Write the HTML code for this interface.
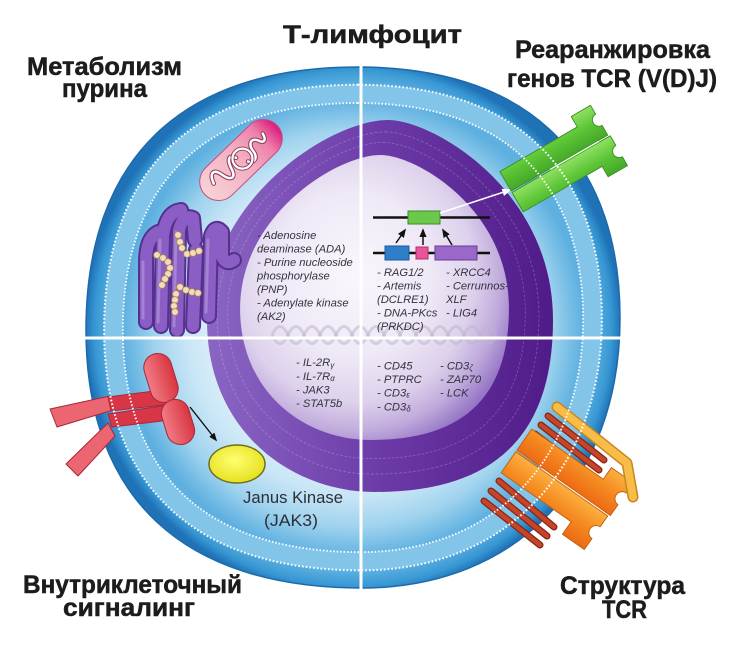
<!DOCTYPE html>
<html><head><meta charset="utf-8"><style>
html,body{margin:0;padding:0;background:#fff;}
svg{display:block;}
.lb{font-family:"Liberation Sans",Arial,sans-serif;font-weight:bold;font-size:25px;fill:#1c1c1c;stroke:#1c1c1c;stroke-width:0.5;}
.it{font-family:"Liberation Sans",Arial,sans-serif;font-style:italic;font-size:11.2px;fill:#33323e;}
.jk{font-family:"Liberation Sans",Arial,sans-serif;font-size:16.5px;fill:#2e2e36;}
</style></head><body>
<svg width="745" height="656" viewBox="0 0 745 656" xmlns="http://www.w3.org/2000/svg">
<defs>
<path id="cell" d="M358,67 C540,67 620,170 620,318 C620,480 517,588 362,588 C183,588 86,498 86,330 C86,159 181,67 358,67 Z"/>
<path id="nuc" d="M388,120 C433,120 553,190 553,320 C553,440 490,492 375,492 C290,492 207,430 207,320 C207,200 330,120 388,120 Z"/>
<radialGradient id="gOuter" gradientUnits="userSpaceOnUse" cx="353" cy="328" r="268">
<stop offset="0.9" stop-color="#5fb3e2"/><stop offset="0.965" stop-color="#3797d3"/><stop offset="1" stop-color="#1f72b6"/>
</radialGradient>
<radialGradient id="gCyto" gradientUnits="userSpaceOnUse" cx="353" cy="328" r="268">
<stop offset="0" stop-color="#f2f9fd"/><stop offset="0.55" stop-color="#e2f1fa"/><stop offset="0.72" stop-color="#c9e6f6"/><stop offset="0.86" stop-color="#a0d3ee"/><stop offset="0.95" stop-color="#74bce5"/><stop offset="1" stop-color="#5eb0e0"/>
</radialGradient>
<linearGradient id="gNuc" gradientUnits="userSpaceOnUse" x1="207" y1="0" x2="553" y2="0">
<stop offset="0" stop-color="#8a66c4"/><stop offset="0.5" stop-color="#6c3ba8"/><stop offset="1" stop-color="#4f1b88"/>
</linearGradient>
<radialGradient id="gNucIn" cx="0.42" cy="0.42" r="0.64">
<stop offset="0" stop-color="#f9f7fc"/><stop offset="0.45" stop-color="#efe9f6"/><stop offset="0.7" stop-color="#ddd1ec"/><stop offset="0.86" stop-color="#c0abdc"/><stop offset="1" stop-color="#9676c6"/>
</radialGradient>
<linearGradient id="gMito" x1="0" y1="0" x2="1" y2="0">
<stop offset="0" stop-color="#f8d2d6"/><stop offset="0.55" stop-color="#f3abc0"/><stop offset="0.8" stop-color="#ee80ab"/><stop offset="1" stop-color="#d9187c"/>
</linearGradient>
<linearGradient id="gGreen" x1="0" y1="0" x2="0" y2="1">
<stop offset="0" stop-color="#8fe062"/><stop offset="0.5" stop-color="#5cc536"/><stop offset="1" stop-color="#45a82a"/>
</linearGradient>
<linearGradient id="gOr" x1="0" y1="0" x2="0" y2="1">
<stop offset="0" stop-color="#fbb040"/><stop offset="0.5" stop-color="#f58a20"/><stop offset="1" stop-color="#ee6a14"/>
</linearGradient>
<linearGradient id="gRed" x1="0" y1="0" x2="1" y2="0">
<stop offset="0" stop-color="#f27c86"/><stop offset="1" stop-color="#d8343f"/>
</linearGradient>
<radialGradient id="gYel" cx="0.45" cy="0.4" r="0.6">
<stop offset="0" stop-color="#ffff70"/><stop offset="1" stop-color="#e6e020"/>
</radialGradient>
<marker id="ah" viewBox="0 0 10 10" refX="8" refY="5" markerWidth="6" markerHeight="6" orient="auto"><path d="M0,1 L10,5 L0,9 Z" fill="#111"/></marker>
<marker id="ahw" viewBox="0 0 10 10" refX="8" refY="5" markerWidth="6" markerHeight="6" orient="auto"><path d="M0,1 L10,5 L0,9 Z" fill="#fff"/></marker>
</defs>
<rect width="745" height="656" fill="#fff"/>

<!-- cell layers -->
<use href="#cell" fill="url(#gOuter)" stroke="#1d6aab" stroke-width="1.5"/>
<use href="#cell" transform="translate(353 328) scale(0.932) translate(-353 -328)" fill="#82c5e9"/>
<use href="#cell" transform="translate(353 328) scale(0.862) translate(-353 -328)" fill="url(#gCyto)"/>

<!-- nucleus -->
<use href="#nuc" fill="url(#gNuc)"/>
<use href="#nuc" transform="translate(378 303) scale(0.93 0.92) translate(-380 -306)" fill="none" stroke="#ffffff" stroke-opacity="0.22" stroke-width="1" stroke-dasharray="3 2" vector-effect="non-scaling-stroke"/>
<use href="#nuc" transform="translate(376.5 300.5) scale(0.86 0.85) translate(-380 -306)" fill="none" stroke="#ffffff" stroke-opacity="0.22" stroke-width="1" stroke-dasharray="3 2" vector-effect="non-scaling-stroke"/>
<use href="#nuc" transform="translate(374.5 297.5) scale(0.777 0.766) translate(-380 -306)" fill="url(#gNucIn)"/>

<!-- DNA watermark -->
<g fill="none" stroke="#bdb4cc" stroke-opacity="0.55" stroke-width="3">
<path d="M272,335 Q280,318 288,335 T304,335 T320,335 T336,335 T352,335 T368,335 T384,335 T400,335 T416,335 T432,335 T448,335 T464,335 T480,335 T496,335"/>
<path d="M272,335 Q280,352 288,335 T304,335 T320,335 T336,335 T352,335 T368,335 T384,335 T400,335 T416,335 T432,335 T448,335 T464,335 T480,335 T496,335"/>
</g>

<!-- mitochondrion -->
<g transform="translate(241 160) rotate(-44)">
<rect x="-50" y="-19" width="100" height="38" rx="19" fill="url(#gMito)" stroke="#c44c80" stroke-width="1"/>
<path d="M-36,-2 C-32,-13 -26,-13 -24,-3 C-22,8 -16,10 -13,0 C-10,-10 -5,-13 -2,-5 M4,6 C8,12 14,10 15,2 C16,-6 22,-10 26,-2 C28,4 32,4 34,-4" fill="none" stroke="#8a3a5a" stroke-width="4.5" stroke-linecap="round"/>
<path d="M-36,-2 C-32,-13 -26,-13 -24,-3 C-22,8 -16,10 -13,0 C-10,-10 -5,-13 -2,-5 M4,6 C8,12 14,10 15,2 C16,-6 22,-10 26,-2 C28,4 32,4 34,-4" fill="none" stroke="#ffffff" stroke-width="2.5" stroke-linecap="round"/>
<circle cx="2" cy="0" r="10" fill="none" stroke="#8a3a5a" stroke-width="4"/>
<circle cx="2" cy="0" r="10" fill="none" stroke="#ffffff" stroke-width="2.2"/>
</g>

<!-- ER -->
<g fill="none" stroke-linecap="round" stroke-linejoin="round">
<g stroke="#55308c" stroke-width="16">
<path d="M146,322 L146,262 Q146,238 158,232"/>
<path d="M161,326 L163,236 Q166,212 181,210"/>
<path d="M177,330 L179,230 Q183,214 193,218 L195,240"/>
<path d="M193,326 L196,250"/>
<path d="M209,316 L211,236 Q215,224 222,232 L222,256 Q226,266 234,260"/>
</g>
<g stroke="#8a5ec4" stroke-width="12">
<path d="M146,322 L146,262 Q146,238 158,232"/>
<path d="M161,326 L163,236 Q166,212 181,210"/>
<path d="M177,330 L179,230 Q183,214 193,218 L195,240"/>
<path d="M193,326 L196,250"/>
<path d="M209,316 L211,236 Q215,224 222,232 L222,256 Q226,266 234,260"/>
</g>
<g stroke="#b092dc" stroke-width="3" stroke-opacity="0.7">
<path d="M143,318 L143,262"/>
<path d="M158,322 L160,240"/>
<path d="M174,326 L176,232"/>
<path d="M206,312 L208,240"/>
</g>
</g>
<g fill="#f3dcb6" stroke="#a8845a" stroke-width="0.8">
<circle cx="178" cy="235" r="3.4"/><circle cx="180" cy="242" r="3.4"/><circle cx="182" cy="248" r="3.4"/><circle cx="187" cy="254" r="3.4"/><circle cx="193" cy="253" r="3.4"/><circle cx="199" cy="251" r="3.4"/>
<circle cx="157" cy="255" r="3.4"/><circle cx="163" cy="258" r="3.4"/><circle cx="168" cy="262" r="3.4"/><circle cx="170" cy="268" r="3.4"/><circle cx="168" cy="274" r="3.4"/><circle cx="165" cy="279" r="3.4"/><circle cx="162" cy="285" r="3.4"/>
<circle cx="180" cy="287" r="3.4"/><circle cx="186" cy="290" r="3.4"/><circle cx="192" cy="292" r="3.4"/><circle cx="198" cy="293" r="3.4"/><circle cx="176" cy="294" r="3.4"/><circle cx="175" cy="300" r="3.4"/><circle cx="174" cy="306" r="3.4"/><circle cx="175" cy="312" r="3.4"/>
</g>

<!-- dividers -->
<line x1="361" y1="58" x2="361" y2="622" stroke="#fff" stroke-width="3"/>
<line x1="40" y1="338" x2="640" y2="338" stroke="#fff" stroke-width="3"/>

<!-- gene diagram -->
<line x1="373" y1="217.5" x2="490" y2="217.5" stroke="#111" stroke-width="2.5"/>
<rect x="408" y="211" width="32" height="13" fill="#6cc84a" stroke="#3a8a2a" stroke-width="1"/>
<line x1="373" y1="253" x2="490" y2="253" stroke="#111" stroke-width="2.5"/>
<rect x="385" y="246" width="24" height="14" fill="#2f7fc8" stroke="#1a5a9a" stroke-width="1"/>
<rect x="416" y="247" width="12" height="12" fill="#e8559a" stroke="#b03070" stroke-width="1"/>
<rect x="435" y="246" width="42" height="14" fill="#9a68c8" stroke="#6a3a98" stroke-width="1"/>
<g stroke="#111" stroke-width="1.5" marker-end="url(#ah)">
<line x1="396" y1="243" x2="405" y2="230"/>
<line x1="423" y1="245" x2="423" y2="230"/>
<line x1="452" y1="245" x2="443" y2="230"/>
</g>
<line x1="440" y1="213" x2="510" y2="190" stroke="#fff" stroke-width="1.6" marker-end="url(#ahw)"/>

<!-- nucleus texts -->
<text class="it" x="257" y="239">- Adenosine</text>
<text class="it" x="257" y="252.5">deaminase (ADA)</text>
<text class="it" x="257" y="266">- Purine nucleoside</text>
<text class="it" x="257" y="279.5">phosphorylase</text>
<text class="it" x="257" y="293">(PNP)</text>
<text class="it" x="257" y="306.5">- Adenylate kinase</text>
<text class="it" x="257" y="320">(AK2)</text>

<text class="it" x="377" y="276">- RAG1/2</text>
<text class="it" x="377" y="289.5">- Artemis</text>
<text class="it" x="377" y="303">(DCLRE1)</text>
<text class="it" x="377" y="316.5">- DNA-PKcs</text>
<text class="it" x="377" y="330">(PRKDC)</text>
<text class="it" x="446" y="276">- XRCC4</text>
<text class="it" x="446" y="289.5">- Cerrunnos-</text>
<text class="it" x="446" y="303">XLF</text>
<text class="it" x="446" y="316.5">- LIG4</text>

<text class="it" x="296" y="366">- IL-2R<tspan font-size="8" dy="2">γ</tspan></text>
<text class="it" x="296" y="380">- IL-7R<tspan font-size="8" dy="1">α</tspan></text>
<text class="it" x="296" y="393.5">- JAK3</text>
<text class="it" x="296" y="407">- STAT5b</text>

<text class="it" x="377" y="369.5">- CD45</text>
<text class="it" x="377" y="383">- PTPRC</text>
<text class="it" x="377" y="396.5">- CD3<tspan font-size="8" dy="1">ε</tspan></text>
<text class="it" x="377" y="410.5">- CD3<tspan font-size="8" dy="1">δ</tspan></text>
<text class="it" x="440" y="369.5">- CD3<tspan font-size="8" dy="1">ζ</tspan></text>
<text class="it" x="440" y="383">- ZAP70</text>
<text class="it" x="440" y="396.5">- LCK</text>

<!-- green receptor -->
<g transform="translate(518 188) rotate(-30) scale(0.93)" stroke="#3c8f26" stroke-width="1" stroke-linejoin="round">
<path d="M-8,-25 L88,-25 L88,-38 L112,-38 L112,-27 A7 7 0 0 0 112,-13 L112,-1 L-8,-1 Z" fill="url(#gGreen)"/>
<path d="M-8,1 L114,1 L114,13 A7 7 0 0 0 114,27 L114,38 L90,38 L90,25 L-8,25 Z" fill="url(#gGreen)"/>
<line x1="40" y1="0" x2="100" y2="0" stroke="#e8ffe0" stroke-width="1.5"/>
</g>

<!-- orange receptor: rods -->
<g stroke-linecap="round">
<g stroke="#8a2412" stroke-width="7">
<line x1="548" y1="416" x2="604" y2="460"/><line x1="541" y1="425" x2="599" y2="470"/><line x1="535" y1="434" x2="593" y2="478"/>
<line x1="499" y1="481" x2="554" y2="527"/><line x1="491" y1="491" x2="547" y2="536"/><line x1="484" y1="501" x2="540" y2="545"/>
</g>
<g stroke="#c4462a" stroke-width="4.5">
<line x1="548" y1="416" x2="604" y2="460"/><line x1="541" y1="425" x2="599" y2="470"/><line x1="535" y1="434" x2="593" y2="478"/>
<line x1="499" y1="481" x2="554" y2="527"/><line x1="491" y1="491" x2="547" y2="536"/><line x1="484" y1="501" x2="540" y2="545"/>
</g>
</g>
<!-- orange body -->
<g transform="translate(518 452) rotate(35) scale(0.95)" stroke="#c25f10" stroke-width="1" stroke-linejoin="round">
<path d="M-2,-28 L90,-28 L90,-43 L118,-43 L118,-30 A7 7 0 0 0 118,-15 L118,-1 L-2,-1 Z" fill="url(#gOr)"/>
<path d="M-2,1 L116,1 L116,15 A7 7 0 0 0 116,30 L116,44 L88,44 L88,28 L-2,28 Z" fill="url(#gOr)"/>
<line x1="30" y1="0" x2="105" y2="0" stroke="#fff0d8" stroke-width="1.3"/>
</g>
<polyline points="557,407 627,463 633,497" fill="none" stroke="#c9861c" stroke-width="11" stroke-linejoin="round" stroke-linecap="round"/>
<polyline points="557,407 627,463 633,497" fill="none" stroke="#f8bc48" stroke-width="8" stroke-linejoin="round" stroke-linecap="round"/>

<!-- red receptor -->
<g stroke="#a8283a" stroke-width="1" stroke-linejoin="round">
<polygon points="50,409 110,396 113,410 57,427" fill="#ec6672"/>
<polygon points="108,423 115,436 78,476 66,464" fill="#ec6672"/>
<polygon points="108,397 170,389 172,404 111,411" fill="#d83646"/>
<polygon points="108,414 168,405 170,420 112,427" fill="#d83646"/>
<g transform="translate(161 378) rotate(-17)"><rect x="-14" y="-25" width="28" height="50" rx="14" fill="url(#gRed)"/></g>
<g transform="translate(178 422) rotate(-17)"><rect x="-14" y="-23" width="28" height="46" rx="14" fill="url(#gRed)"/></g>
</g>

<!-- membrane dotted lines (on top) -->
<use href="#cell" transform="translate(353 328) scale(0.932) translate(-353 -328)" fill="none" stroke="#ffffff" stroke-width="2.2" stroke-dasharray="1.8 2.2" vector-effect="non-scaling-stroke" opacity="0.95"/>
<use href="#cell" transform="translate(353 328) scale(0.862) translate(-353 -328)" fill="none" stroke="#ffffff" stroke-width="2.2" stroke-dasharray="1.8 2.2" vector-effect="non-scaling-stroke" opacity="0.95"/>

<!-- JAK -->
<line x1="190" y1="407" x2="216" y2="440" stroke="#111" stroke-width="1.4" marker-end="url(#ah)"/>
<ellipse cx="237" cy="464" rx="28" ry="19" fill="url(#gYel)" stroke="#6e6e22" stroke-width="1.5"/>
<text class="jk" x="243" y="503" textLength="100" lengthAdjust="spacingAndGlyphs">Janus Kinase</text>
<text class="jk" x="264" y="526" textLength="54" lengthAdjust="spacingAndGlyphs">(JAK3)</text>

<!-- labels -->
<text class="lb" x="283" y="43" textLength="179" lengthAdjust="spacingAndGlyphs">Т-лимфоцит</text>
<text class="lb" x="27" y="75" textLength="155" lengthAdjust="spacingAndGlyphs">Метаболизм</text>
<text class="lb" x="62" y="97" textLength="85" lengthAdjust="spacingAndGlyphs">пурина</text>
<text class="lb" x="515" y="58" textLength="195" lengthAdjust="spacingAndGlyphs">Реаранжировка</text>
<text class="lb" x="507" y="87" textLength="210" lengthAdjust="spacingAndGlyphs">генов TCR (V(D)J)</text>
<text class="lb" x="23" y="593" textLength="219" lengthAdjust="spacingAndGlyphs">Внутриклеточный</text>
<text class="lb" x="63" y="616" textLength="132" lengthAdjust="spacingAndGlyphs">сигналинг</text>
<text class="lb" x="560" y="594" textLength="125" lengthAdjust="spacingAndGlyphs">Структура</text>
<text class="lb" x="602" y="618" textLength="45" lengthAdjust="spacingAndGlyphs">TCR</text>
<text x="8" y="675" font-family="Liberation Sans, sans-serif" font-weight="bold" font-size="20" fill="#555">Рис. 1. С</text>
</svg>
</body></html>
